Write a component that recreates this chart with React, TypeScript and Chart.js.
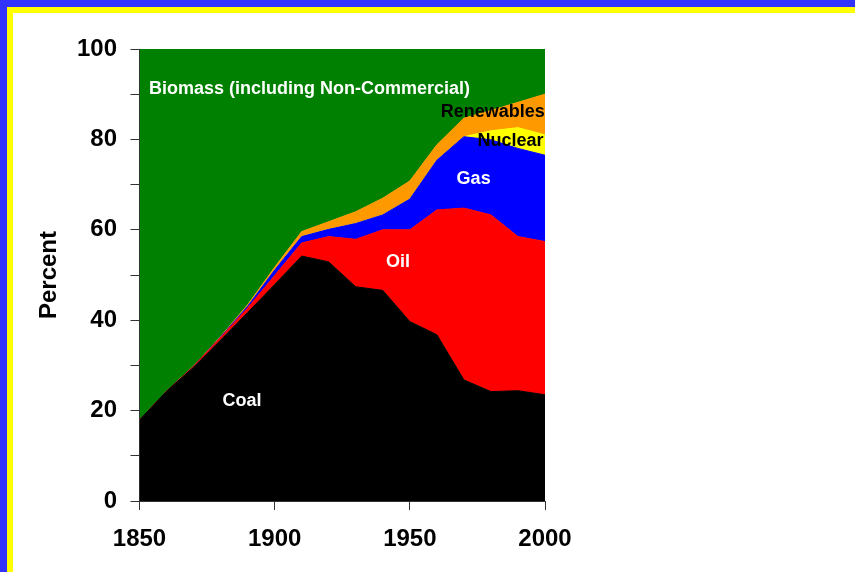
import React, { useEffect, useRef } from "react";
import { Chart, registerables } from "chart.js";

Chart.register(...registerables);

// World primary energy shares by source, percent of total
const YEARS = [1850, 1860, 1870, 1880, 1890, 1900, 1910, 1920, 1930, 1940, 1950, 1960, 1970, 1980, 1990, 2000];
const COAL = [17.9, 24.3, 29.6, 35.6, 41.7, 47.9, 54.2, 52.9, 47.4, 46.6, 39.7, 36.8, 26.8, 24.2, 24.4, 23.5];
const OIL = [0, 0, 0.2, 0.6, 1.0, 2.0, 2.9, 5.6, 10.5, 13.4, 20.3, 27.6, 38.0, 39.1, 34.1, 33.9];
const GAS = [0, 0, 0, 0.1, 0.4, 1.2, 1.4, 1.6, 3.5, 3.3, 6.8, 11.0, 15.8, 16.6, 19.5, 19.1];
const NUCLEAR = [0, 0, 0, 0, 0, 0, 0, 0, 0, 0, 0, 0, 0, 2.0, 4.6, 4.5];
const RENEWABLES = [0, 0, 0, 0.1, 0.3, 0.6, 1.1, 1.7, 2.6, 3.7, 4.0, 3.4, 4.1, 4.5, 5.6, 9.0];
const BIOMASS = [82.1, 75.7, 70.2, 63.6, 56.6, 48.3, 40.4, 38.2, 36.0, 33.0, 29.2, 21.2, 15.3, 13.6, 11.8, 10.0];

// In-chart area names: [text, year, percent (baseline), colour, alignment]
const AREA_LABELS: [string, number, number, string, CanvasTextAlign][] = [
  ["Biomass (including Non-Commercial)", 1853.5, 90.0, "#ffffff", "left"],
  ["Coal", 1887.9, 21.1, "#ffffff", "center"],
  ["Oil", 1945.6, 51.8, "#ffffff", "center"],
  ["Gas", 1973.6, 70.1, "#ffffff", "center"],
  ["Renewables", 1980.7, 84.9, "#000000", "center"],
  ["Nuclear", 1987.2, 78.5, "#000000", "center"],
];

const FONT = "Arial, 'Liberation Sans', Helvetica, sans-serif";

const toPoints = (vals: number[]) => vals.map((v, i) => ({ x: YEARS[i], y: v }));

const areaLabelPlugin = {
  id: "areaLabels",
  afterDatasetsDraw(chart: any) {
    const { ctx, scales } = chart;
    ctx.save();
    ctx.font = `bold 18px ${FONT}`;
    ctx.textBaseline = "alphabetic";
    for (const [text, yr, pct, color, align] of AREA_LABELS) {
      ctx.fillStyle = color;
      ctx.textAlign = align;
      ctx.fillText(text, scales.x.getPixelForValue(yr), scales.y.getPixelForValue(pct));
    }
    ctx.restore();
  },
};

export default function App() {
  const canvasRef = useRef<HTMLCanvasElement | null>(null);

  useEffect(() => {
    const canvas = canvasRef.current;
    if (!canvas) return;
    const series: [number[], string][] = [
      [COAL, "#000000"],
      [OIL, "#ff0000"],
      [GAS, "#0000ff"],
      [NUCLEAR, "#ffff00"],
      [RENEWABLES, "#ff9900"],
      [BIOMASS, "#008000"],
    ];
    const chart = new Chart(canvas, {
      type: "line",
      data: {
        datasets: series.map(([vals, color], i) => ({
          data: toPoints(vals),
          backgroundColor: color,
          borderColor: color,
          borderWidth: 1,
          pointRadius: 0,
          tension: 0,
          fill: i === 0 ? "origin" : "-1",
        })),
      },
      options: {
        animation: false,
        responsive: false,
        events: [],
        layout: { padding: { left: 20, top: 49, right: 310, bottom: 0 } },
        plugins: { legend: { display: false }, tooltip: { enabled: false } },
        scales: {
          x: {
            type: "linear",
            min: 1850,
            max: 2000,
            afterFit: (scale: any) => {
              scale.height = 71;
            },
            ticks: {
              stepSize: 50,
              padding: 14.6,
              color: "#000000",
              font: { family: FONT, size: 24, weight: "bold" },
              callback: (v: any) => String(v),
            },
            grid: { drawOnChartArea: false, tickLength: 9, color: "#333333" },
            border: { display: true, color: "#333333" },
          },
          y: {
            stacked: true,
            min: 0,
            max: 100,
            afterFit: (scale: any) => {
              scale.width = 119.5;
            },
            ticks: {
              stepSize: 10,
              padding: 13.5,
              color: "#000000",
              font: { family: FONT, size: 24, weight: "bold" },
              callback: (v: any) => (Number(v) % 20 === 0 ? String(v) : ""),
            },
            grid: { drawOnChartArea: false, tickLength: 9, color: "#333333" },
            border: { display: true, color: "#333333" },
            title: {
              display: true,
              text: "Percent",
              color: "#000000",
              padding: { top: 14.6, bottom: 0 },
              font: { family: FONT, size: 24, weight: "bold" },
            },
          },
        },
      },
      plugins: [areaLabelPlugin],
    });
    return () => chart.destroy();
  }, []);

  return (
    <div
      style={{
        position: "fixed",
        left: 0,
        top: 0,
        width: 855,
        height: 572,
        overflow: "hidden",
        background: "#ffffff",
      }}
    >
      <div
        style={{
          position: "absolute",
          inset: 0,
          borderTop: "7px solid #3333ff",
          borderLeft: "7px solid #3333ff",
        }}
      >
        <div
          style={{
            position: "absolute",
            inset: 0,
            borderTop: "6px solid #ffff00",
            borderLeft: "6px solid #ffff00",
          }}
        />
      </div>
      <canvas
        ref={canvasRef}
        width={855}
        height={572}
        style={{ position: "absolute", left: 0, top: 0, width: 855, height: 572 }}
      />
    </div>
  );
}
